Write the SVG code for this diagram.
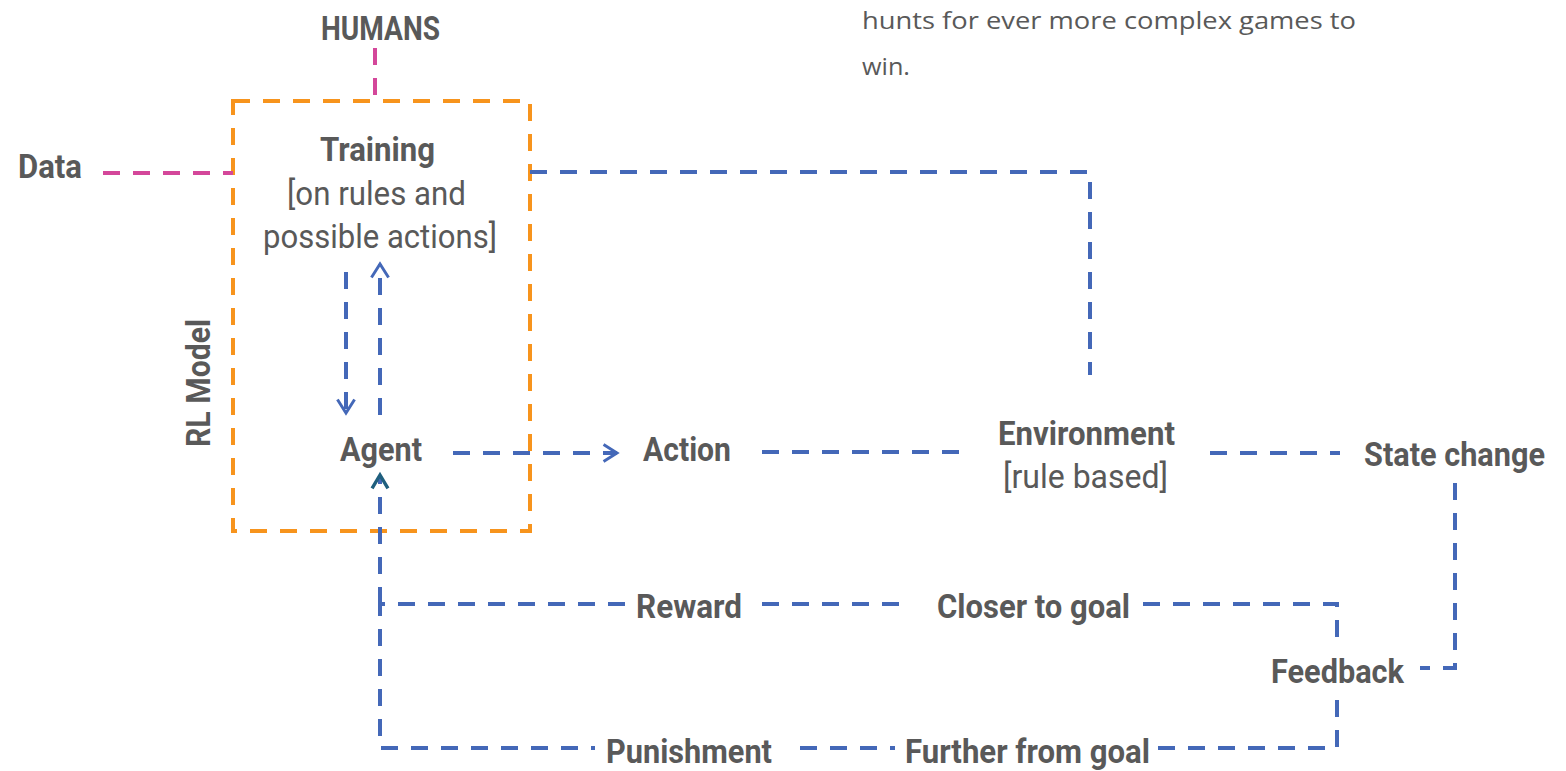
<svg xmlns="http://www.w3.org/2000/svg" width="1566" height="771" viewBox="0 0 1566 771">
<style>
.lbl{font-family:"Roboto","Liberation Sans",sans-serif;font-weight:700;fill:#595959;font-size:34px}
.reg{font-family:"Roboto","Liberation Sans",sans-serif;font-weight:400;fill:#595959;font-size:33px}
.note{font-family:"Open Sans","Noto Sans",sans-serif;font-weight:400;fill:#595959;font-size:24px}
.blue{fill:none;stroke:#4468B8;stroke-width:4;stroke-dasharray:17 13}
.pink{fill:none;stroke:#D4479A;stroke-width:4;stroke-dasharray:17 13}
.orange{fill:none;stroke:#F7941D;stroke-width:4;stroke-dasharray:17 13}
</style>
<defs>
<marker id="ah" markerUnits="userSpaceOnUse" markerWidth="22" markerHeight="22" refX="14" refY="9" orient="auto" viewBox="0 0 18 18" overflow="visible">
<path d="M3,2 L14,9 L3,16" fill="none" stroke="#4468B8" stroke-width="2.4"/>
</marker>
<marker id="aht" markerUnits="userSpaceOnUse" markerWidth="22" markerHeight="22" refX="14" refY="9" orient="auto" viewBox="0 0 18 18" overflow="visible">
<path d="M3,2.5 L14,9 L3,15.5" fill="none" stroke="#1F5F7E" stroke-width="2.8"/>
</marker>
</defs>
<rect width="1566" height="771" fill="#ffffff"/>

<g id="note">
<text class="note" x="862" y="29" textLength="494" lengthAdjust="spacingAndGlyphs">hunts for ever more complex games to</text>
<text class="note" x="862" y="75" textLength="48" lengthAdjust="spacingAndGlyphs">win.</text>
</g>

<g id="rl-model-box">
<rect class="orange" x="233" y="101" width="297" height="430"/>
<text class="lbl" transform="translate(210,383) rotate(-90)" text-anchor="middle" textLength="128" lengthAdjust="spacingAndGlyphs">RL Model</text>
</g>

<g id="connectors">
<path class="pink" d="M375,48 V101"/>
<path class="pink" d="M103,173 H233"/>
<path class="blue" d="M530,172 H1090 V375"/>
<path class="blue" d="M346,272 V413" marker-end="url(#ah)"/>
<path class="blue" d="M380,415 V264" marker-end="url(#ah)"/>
<path class="blue" d="M453,453 H617" marker-end="url(#ah)"/>
<path class="blue" d="M762,452 H962"/>
<path class="blue" d="M1210,453 H1340"/>
<path class="blue" d="M1455,483 V668 H1420"/>
<path class="blue" d="M1143,604 H1337 V640"/>
<path class="blue" d="M1337,700 V748 H1150"/>
<path class="blue" d="M762,604 H905"/>
<path class="blue" d="M625,604 H380 V748 H595"/>
<path class="blue" d="M380,604 V475" marker-end="url(#aht)"/>
<path class="blue" d="M800,748 H895"/>
</g>

<g id="humans"><text class="lbl" x="321" y="40" textLength="119" lengthAdjust="spacingAndGlyphs">HUMANS</text></g>
<g id="data"><text class="lbl" x="18" y="178" textLength="64" lengthAdjust="spacingAndGlyphs">Data</text></g>
<g id="training">
<text class="lbl" x="320" y="161" textLength="115" lengthAdjust="spacingAndGlyphs">Training</text>
<text class="reg" x="287" y="205" textLength="179" lengthAdjust="spacingAndGlyphs">[on rules and</text>
<text class="reg" x="263" y="248" textLength="234" lengthAdjust="spacingAndGlyphs">possible actions]</text>
</g>
<g id="agent"><text class="lbl" x="340" y="461" textLength="82" lengthAdjust="spacingAndGlyphs">Agent</text></g>
<g id="action"><text class="lbl" x="643" y="461" textLength="88" lengthAdjust="spacingAndGlyphs">Action</text></g>
<g id="environment">
<text class="lbl" x="998" y="445" textLength="177" lengthAdjust="spacingAndGlyphs">Environment</text>
<text class="reg" x="1003" y="488" textLength="165" lengthAdjust="spacingAndGlyphs">[rule based]</text>
</g>
<g id="state-change"><text class="lbl" x="1364" y="466" textLength="181" lengthAdjust="spacingAndGlyphs">State change</text></g>
<g id="feedback"><text class="lbl" x="1271" y="683" textLength="133" lengthAdjust="spacingAndGlyphs">Feedback</text></g>
<g id="reward"><text class="lbl" x="636" y="618" textLength="106" lengthAdjust="spacingAndGlyphs">Reward</text></g>
<g id="closer"><text class="lbl" x="937" y="618" textLength="193" lengthAdjust="spacingAndGlyphs">Closer to goal</text></g>
<g id="punishment"><text class="lbl" x="606" y="763" textLength="166" lengthAdjust="spacingAndGlyphs">Punishment</text></g>
<g id="further"><text class="lbl" x="905" y="763" textLength="245" lengthAdjust="spacingAndGlyphs">Further from goal</text></g>
</svg>
